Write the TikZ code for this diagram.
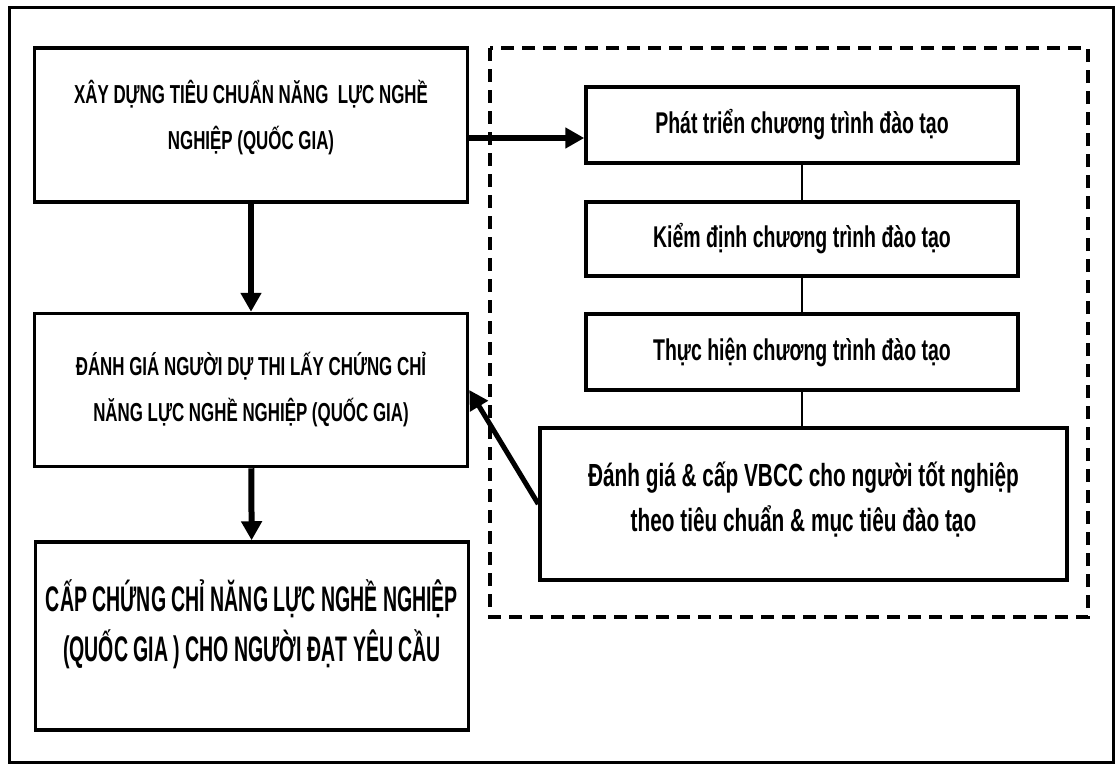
\documentclass[tikz,border=0pt]{standalone}
\usepackage{fontspec}
\setmainfont{Liberation Sans}[FakeStretch=0.65]
\newfontfamily\tallfont{Liberation Sans}[FakeStretch=0.55]
\usetikzlibrary{arrows.meta}
\tikzset{
  capbox/.style={draw, line width=3.5pt, align=center, inner sep=0pt, minimum width=433pt, font=\fontsize{26}{46}\selectfont\bfseries},
  bigcapbox/.style={capbox, font=\tallfont\fontsize{35.5}{50}\selectfont\bfseries},
  stepbox/.style={draw, line width=3.5pt, align=center, inner sep=0pt, minimum width=432pt, minimum height=76pt, font=\fontsize{30}{45}\selectfont\bfseries},
  bigarrow/.style={-{Triangle[length=19pt, width=20pt]}, line width=6pt},
  slimline/.style={line width=2.5pt},
  groupline/.style={line width=4.5pt, dash pattern=on 13pt off 8pt},
}
\begin{document}
\begin{tikzpicture}[x=1pt, y=-1pt]
  \useasboundingbox (0,0) rectangle (1118,768);
  % outer frame
  \draw[line width=3pt] (9,8) rectangle (1113,762);

  % left column: national standard and certificate
  \node[capbox, minimum height=154pt, text depth=21pt] (xd) at (251,125)
    {XÂY DỰNG TIÊU CHUẨN NĂNG\ \ LỰC NGHỀ\\NGHIỆP (QUỐC GIA)};
  \node[capbox, minimum height=153pt] (dg) at (251,390)
    {ĐÁNH GIÁ NGƯỜI DỰ THI LẤY CHỨNG CHỈ\\NĂNG LỰC NGHỀ NGHIỆP (QUỐC GIA)};
  \node[bigcapbox, minimum height=188pt, text depth=30pt] (cc) at (252,636)
    {CẤP CHỨNG CHỈ NĂNG LỰC NGHỀ NGHIỆP\\(QUỐC GIA ) CHO NGƯỜI ĐẠT YÊU CẦU};

  % dashed frame round the training steps
  \draw[groupline] (490,48) rectangle (1088,617);

  % right column: training programme
  \node[stepbox] (pt) at (802,125) {Phát triển chương trình đào tạo};
  \node[stepbox, minimum height=74pt] (kd) at (802,239) {Kiểm định chương trình đào tạo};
  \node[stepbox] (th) at (802,352) {Thực hiện chương trình đào tạo};
  \node[stepbox, minimum width=527pt, minimum height=152pt, text depth=14pt,
        font=\fontsize{32}{45}\selectfont\bfseries] (vb) at (803.5,504)
    {Đánh giá \& cấp VBCC cho người tốt nghiệp\\theo tiêu chuẩn \& mục tiêu đào tạo};

  \draw[slimline] (pt) -- (kd);
  \draw[slimline] (kd) -- (th);
  \draw[slimline] (th.south) -- (th.south |- vb.north);

  % arrows
  \draw[bigarrow] (xd) -- (dg);
  \draw[bigarrow] (dg) -- (cc);
  \draw[bigarrow] ([yshift=-13pt]xd.east) -- ([yshift=-13pt]pt.west);
  \draw[bigarrow, line width=5pt] (vb.west) -- (dg.east);
\end{tikzpicture}
\end{document}
